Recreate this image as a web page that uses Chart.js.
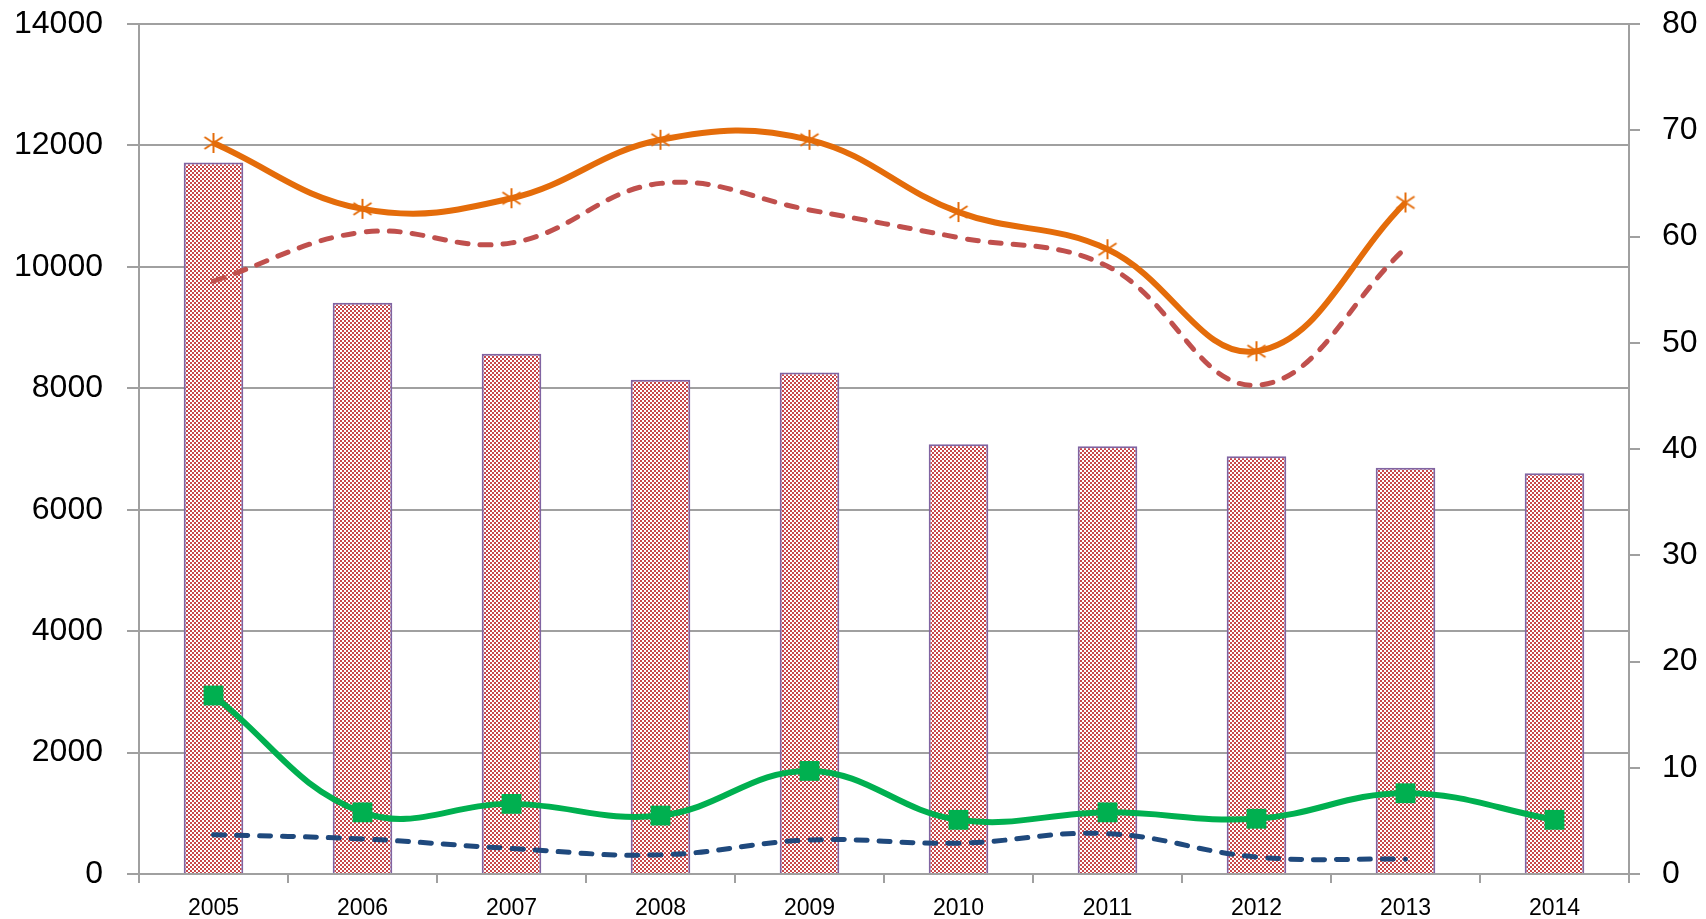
<!DOCTYPE html>
<html>
<head>
<meta charset="utf-8">
<script src="https://cdn.jsdelivr.net/npm/chart.js@4/dist/chart.umd.min.js"></script>
<style>
  html, body { margin: 0; padding: 0; background: #ffffff; }
  #wrap { width: 1706px; height: 919px; }
</style>
</head>
<body>
<div id="wrap"><canvas id="c" width="1706" height="919"></canvas></div>
<script>
const years = ['2005','2006','2007','2008','2009','2010','2011','2012','2013','2014'];
const barValues = [11720, 9410, 8570, 8140, 8260, 7080, 7045, 6880, 6690, 6600];
const orangeValues = [68.8, 62.6, 63.6, 69.1, 69.1, 62.3, 58.8, 49.2, 63.2, null];
const redDashValues = [55.8, 60.4, 59.4, 65.0, 62.5, 59.9, 57.2, 46.0, 58.9, null];
const greenValues = [16.8, 5.8, 6.6, 5.5, 9.7, 5.1, 5.8, 5.2, 7.6, 5.1];
const blueDashValues = [3.7, 3.3, 2.4, 1.8, 3.2, 2.9, 3.8, 1.6, 1.4, null];
const leftTicks = [0, 2000, 4000, 6000, 8000, 10000, 12000, 14000];
const rightTicks = [0, 10, 20, 30, 40, 50, 60, 70, 80];

function makePattern() {
  const pc = document.createElement('canvas');
  pc.width = 4; pc.height = 4;
  const g = pc.getContext('2d');
  g.fillStyle = '#ffffff';
  g.fillRect(0, 0, 4, 4);
  g.fillStyle = '#c8474a';
  g.fillRect(0, 0, 2, 2);
  g.fillRect(2, 2, 2, 2);
  return document.getElementById('c').getContext('2d').createPattern(pc, 'repeat');
}
function makeStar() {
  const s = document.createElement('canvas');
  s.width = 22; s.height = 22;
  const g = s.getContext('2d');
  g.strokeStyle = '#e46c0a';
  g.lineWidth = 2;
  g.beginPath();
  g.moveTo(11, 1); g.lineTo(11, 21);
  g.moveTo(2, 5); g.lineTo(20, 17);
  g.moveTo(20, 5); g.lineTo(2, 17);
  g.stroke();
  return s;
}

const gridColor = '#a0a0a0';
const font = "'Liberation Sans', Arial, sans-serif";
const plain = (v) => String(v);

new Chart(document.getElementById('c'), {
  type: 'bar',
  data: {
    labels: years,
    datasets: [
      {
        type: 'line', data: orangeValues, yAxisID: 'y2', order: 1,
        borderColor: '#e46c0a', borderWidth: 6, tension: 0.4,
        pointStyle: makeStar(), pointRadius: 11, pointHoverRadius: 11
      },
      {
        type: 'line', data: redDashValues, yAxisID: 'y2', order: 2,
        borderColor: '#c0504d', borderWidth: 5, tension: 0.4,
        borderDash: [11, 12], borderCapStyle: 'round', pointRadius: 0
      },
      {
        type: 'line', data: greenValues, yAxisID: 'y2', order: 3,
        borderColor: '#00b050', borderWidth: 6, tension: 0.4,
        pointStyle: 'rect', pointRadius: 14, pointHoverRadius: 14,
        pointBackgroundColor: '#00b050', pointBorderColor: '#00b050', pointBorderWidth: 0
      },
      {
        type: 'line', data: blueDashValues, yAxisID: 'y2', order: 4,
        borderColor: '#1f497d', borderWidth: 5, tension: 0.4,
        borderDash: [11, 12], borderCapStyle: 'round', pointRadius: 0
      },
      {
        type: 'bar', data: barValues, yAxisID: 'y', order: 10,
        backgroundColor: makePattern(), borderColor: '#8064a2', borderWidth: 2,
        barPercentage: 0.8, categoryPercentage: 0.5
      }
    ]
  },
  options: {
    responsive: false,
    animation: false,
    events: [],
    layout: { padding: { top: 24, left: 0, right: 0, bottom: 0 } },
    plugins: { legend: { display: false }, tooltip: { enabled: false }, title: { display: false } },
    scales: {
      x: {
        offset: true,
        grid: { offset: true, drawOnChartArea: false, drawTicks: true, tickLength: 9, color: gridColor, lineWidth: 2 },
        border: { color: gridColor, width: 2 },
        ticks: { color: '#000', font: { family: font, size: 23 }, padding: 12, maxRotation: 0, autoSkip: false },
        afterFit: (s) => { s.height = 45; s.paddingLeft = 0; s.paddingRight = 0; }
      },
      y: {
        position: 'left', min: 0, max: 14000,
        afterBuildTicks: (s) => { s.ticks = leftTicks.map(v => ({ value: v })); },
        grid: { color: gridColor, lineWidth: 2, tickLength: 12 },
        border: { color: gridColor, width: 2 },
        ticks: { color: '#000', font: { family: font, size: 32 }, padding: 24, callback: plain },
        afterFit: (s) => { s.width = 139; s.paddingTop = 0; s.paddingBottom = 0; }
      },
      y2: {
        position: 'right', min: 0, max: 80,
        afterBuildTicks: (s) => { s.ticks = rightTicks.map(v => ({ value: v })); },
        grid: { drawOnChartArea: false, color: gridColor, lineWidth: 2, tickLength: 11 },
        border: { color: gridColor, width: 2 },
        ticks: { color: '#000', font: { family: font, size: 32 }, padding: 22, callback: plain },
        afterFit: (s) => { s.width = 77; s.paddingTop = 0; s.paddingBottom = 0; }
      }
    }
  }
});
</script>
</body>
</html>
